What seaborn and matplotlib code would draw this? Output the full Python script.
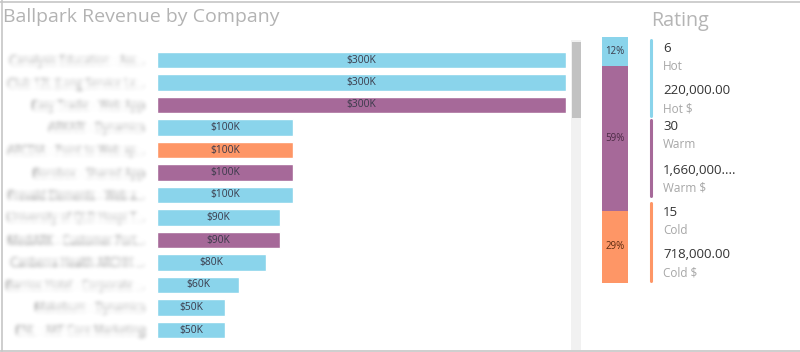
import numpy as np
import pandas as pd
import matplotlib
matplotlib.use("Agg")
import matplotlib.pyplot as plt
import seaborn as sns
from matplotlib.patches import Rectangle
from matplotlib.lines import Line2D

# ---------------- data ----------------
companies = [
    "Canalysis Education - Ass...",
    "Club 12L (Long Service Le...",
    "Easy Tradie - Web App",
    "ARKARI - Dynamics",
    "ARCDIA - Point to Web ap...",
    "Borobox - Shared App",
    "Prevald Elements - Web a...",
    "University of QLD Hospi T...",
    "MediARK - Customer Port...",
    "Canberra Health ARCHH ...",
    "Barrios Hotel - Corporate ...",
    "Makebum - Dynamics",
    "ENL - AKF Core Marketing",
]
revenue = [300000, 300000, 300000, 100000, 100000, 100000, 100000,
           90000, 90000, 80000, 60000, 50000, 50000]
company_rating = ["Hot", "Hot", "Warm", "Hot", "Cold", "Warm", "Hot",
                  "Hot", "Warm", "Hot", "Hot", "Hot", "Hot"]

ratings = ["Hot", "Warm", "Cold"]
rating_counts = [6, 30, 15]
rating_values = ["220,000.00", "1,660,000....", "718,000.00"]
rating_value_labels = ["Hot $", "Warm $", "Cold $"]

colors = {"Hot": "#8AD4EB", "Warm": "#A66999", "Cold": "#FE9666"}

df = pd.DataFrame({"company": companies, "revenue": revenue, "rating": company_rating})

# ---------------- helpers ----------------
W, H = 800, 352
def fx(px):
    return px / W
def fy(py):
    return 1 - py / H

def gaussian_blur(sigma):
    def filt(im, dpi):
        pad = int(3 * sigma) + 1
        im2 = np.pad(im, ((pad, pad), (pad, pad), (0, 0)), mode="constant")
        r = np.arange(-pad, pad + 1)
        k = np.exp(-r ** 2 / (2 * sigma ** 2))
        k /= k.sum()
        out = np.apply_along_axis(lambda m: np.convolve(m, k, mode="same"), 0, im2)
        out = np.apply_along_axis(lambda m: np.convolve(m, k, mode="same"), 1, out)
        return out, -pad, -pad
    return filt

sns.set_theme(style="white")
plt.rcParams["font.family"] = ["Open Sans", "DejaVu Sans"]

fig = plt.figure(figsize=(8, 3.52), dpi=100)

# ---------------- main bar chart ----------------
ax = fig.add_axes([fx(157), fy(341.25), fx(566 - 157), (341.25 - 48.75) / H])
sns.barplot(data=df, y="company", x="revenue", hue="rating", palette=colors,
            dodge=False, width=0.72, saturation=1, legend=False, ax=ax,
            order=companies, orient="h")
ax.set_xlim(0, 300000)
ax.set_ylim(len(companies) - 0.5, -0.5)
ax.set_xlabel("")
ax.set_ylabel("")
ax.set_xticks([])
for s in ax.spines.values():
    s.set_visible(False)
ax.tick_params(axis="y", length=0, pad=9, labelsize=7.8, labelcolor="#8c8c8c")
for lab in ax.get_yticklabels():
    lab.set_agg_filter(gaussian_blur(2.2))

for cont in ax.containers:
    for bar in cont:
        w = bar.get_width()
        if np.isnan(w) or w == 0:
            continue
        ax.text(w / 2, bar.get_y() + bar.get_height() / 2, f"${w/1000:.0f}K",
                ha="center", va="center", fontsize=7.4, color="#3a3a4a")

# ---------------- scrollbar ----------------
fig.patches.append(Rectangle((fx(571), fy(350)), fx(10), (350 - 40) / H,
                             transform=fig.transFigure, facecolor="#f1f1f1",
                             edgecolor="none", zorder=0))
fig.patches.append(Rectangle((fx(572), fy(118)), fx(9), (118 - 42) / H,
                             transform=fig.transFigure, facecolor="#c2c2c2",
                             edgecolor="none", zorder=1))

# ---------------- stacked rating bar ----------------
ax2 = fig.add_axes([fx(602), fy(283), fx(26), (283 - 37) / H])
total = sum(rating_counts)
bottom = 0
for r, c in zip(ratings, rating_counts):
    ax2.bar(0, c, bottom=bottom, width=1.0, color=colors[r], linewidth=0)
    pcolor = "#3a3a4a" if r == "Hot" else ("#4a2a44" if r == "Warm" else "#5a2a10")
    ax2.text(0, bottom + c / 2, f"{c/total:.0%}", ha="center", va="center",
             fontsize=7, color=pcolor)
    bottom += c
ax2.set_xlim(-0.5, 0.5)
ax2.set_ylim(total, 0)
ax2.axis("off")

# ---------------- legend panel ----------------
fig.text(fx(651), fy(21), "Rating", fontsize=14.2, color="#b5b5b5",
         ha="left", va="center")
seg = [(40, 116), (120, 196), (203, 281)]
val_y = [(49, 67, 90, 109), (126, 145, 170, 188), (213, 231, 255, 273)]
for i, r in enumerate(ratings):
    y0, y1 = seg[i]
    fig.add_artist(Line2D([fx(650.5), fx(650.5)], [fy(y0), fy(y1)],
                          transform=fig.transFigure, color=colors[r], lw=2.2))
    a, b, c, d = val_y[i]
    fig.text(fx(663), fy(a), str(rating_counts[i]), fontsize=9.5, color="#333333",
             ha="left", va="center")
    fig.text(fx(663), fy(b), r, fontsize=8.5, color="#a6a6a6", ha="left", va="center")
    fig.text(fx(663), fy(c), rating_values[i], fontsize=9.5, color="#333333",
             ha="left", va="center")
    fig.text(fx(663), fy(d), rating_value_labels[i], fontsize=8.5, color="#a6a6a6",
             ha="left", va="center")

# ---------------- title and frame ----------------
fig.text(fx(3), fy(17), "Ballpark Revenue by Company", fontsize=14,
         color="#b3b3b3", ha="left", va="center")
for xs, ys in [([0, 800], [1.5, 1.5]), ([0, 800], [350.5, 350.5]), ([1.5, 1.5], [0, 351])]:
    fig.add_artist(Line2D([fx(x) for x in xs], [fy(y) for y in ys],
                          transform=fig.transFigure, color="#c6c6c6", lw=1.2))

fig.savefig("out.png", dpi=100)
